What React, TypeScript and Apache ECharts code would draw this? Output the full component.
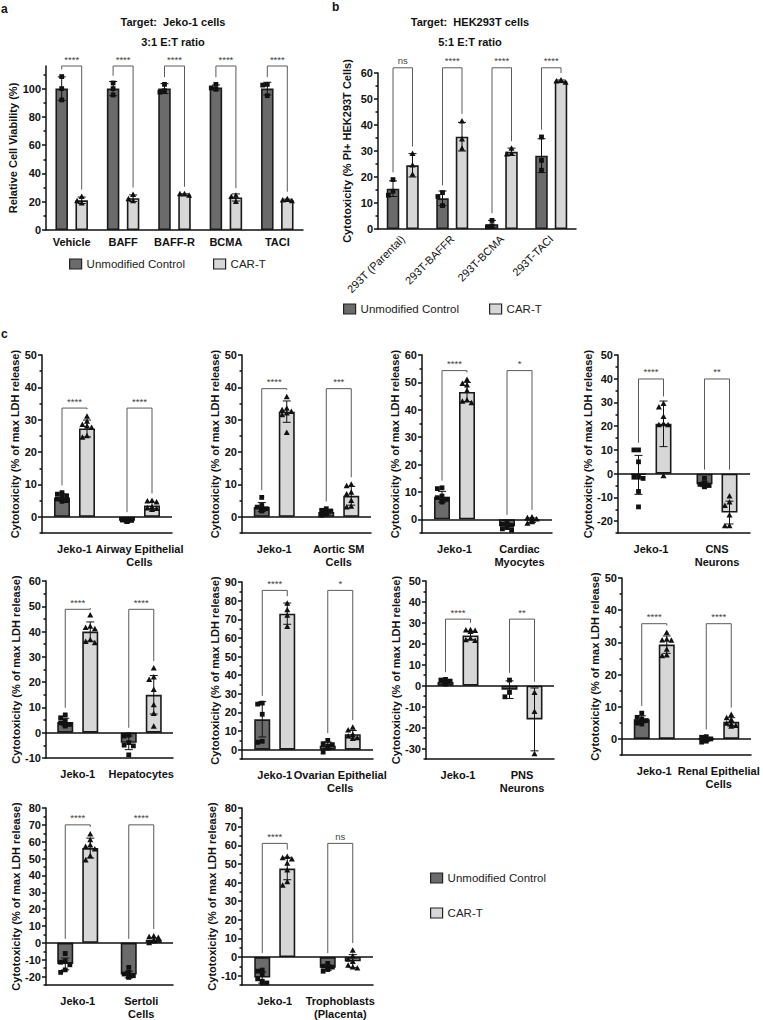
import React, { useEffect, useRef } from 'react';
import * as echarts from 'echarts';

const FONT = '"Liberation Sans", Arial, Helvetica, sans-serif';
const INK = '#111111';
const DARK = '#6b6b6b';
const LIGHT = '#d7d7d7';

// ---------- Panel a ----------
const aCats = ['Vehicle', 'BAFF', 'BAFF-R', 'BCMA', 'TACI'];
const aCtrlMean = [100, 100, 100, 100.8, 100];
const aCtrlSd = [8.3, 5, 3.5, 1.8, 4.5];
const aCtrlPts = [[108.5, 100, 92], [104, 100, 95.5], [103, 98.5, 97.5], [103, 100.5, 99.5], [103, 102.5, 95]];
const aCarMean = [21, 22.5, 25, 23, 21];
const aCarSd = [2.3, 2.3, 0.6, 2.5, 0.8];
const aCarPts = [[23.5, 20.5, 19], [25, 22, 20.5], [25.5, 25.5, 24.5], [24.5, 23.5, 20], [22, 21, 20.5]];
const aSig = ['****', '****', '****', '****', '****'];
const aBracket = [116, 116, 116, 116, 116];
const aTicks = [0, 20, 40, 60, 80, 100];
const aMinor = [10, 30, 50, 70, 90, 110];

// ---------- Panel b ----------
const bCats = ['293T (Parental)', '293T-BAFFR', '293T-BCMA', '293T-TACI'];
const bCtrlMean = [15.5, 11.8, 1.8, 28.2];
const bCtrlSd = [3, 2.8, 1.5, 6.5];
const bCtrlPts = [[19, 14.5, 13], [14, 12.5, 9], [3.3, 1.2, 0.8], [35.4, 26.4, 22.6]];
const bCarMean = [24.5, 35.5, 29.7, 56.8];
const bCarSd = [4.5, 5.5, 1.4, 0.5];
const bCarPts = [[29, 24.5, 21], [41.5, 34.5, 31], [31, 29, 28.8], [57.2, 56.8, 56.4]];
const bSig = ['ns', '****', '****', '****'];
const bBracket = [62, 62, 62, 62];
const bTicks = [0, 10, 20, 30, 40, 50, 60];
const bMinor = [5, 15, 25, 35, 45, 55];

// ---------- Panel c: Airway Epithelial ----------
const c1Cats = ['Jeko-1', 'Airway Epithelial\nCells'];
const c1CtrlMean = [6, -1.2];
const c1CtrlSd = [1.1, 0.3];
const c1CtrlPts = [[7.5, 7, 6.5, 6, 5.5, 5, 4.8], [-0.8, -1, -1.1, -1.2, -1.3, -1.4, -1.5]];
const c1CarMean = [27.3, 3.5];
const c1CarSd = [2.6, 1];
const c1CarPts = [[31, 29.5, 28.5, 28, 27.5, 25, 24.5], [5, 4.8, 4.5, 3, 2.7, 2.5, 2.2]];
const c1Sig = ['****', '****'];
const c1Bracket = [33.6, 33.6];
const c1Ticks = [0, 10, 20, 30, 40, 50];
const c1Minor = [-5, 5, 15, 25, 35, 45];

// ---------- Aortic SM ----------
const c2Cats = ['Jeko-1', 'Aortic SM\nCells'];
const c2CtrlMean = [3, 1.5];
const c2CtrlSd = [1.4, 0.7];
const c2CtrlPts = [[6, 3.5, 3, 2.5, 2.5, 2, 1.8], [2.5, 2, 1.8, 1.5, 1.2, 0.8, 0.5]];
const c2CarMean = [32.5, 6.5];
const c2CarSd = [3.3, 2.9];
const c2CarPts = [[37, 33.5, 33, 32.5, 32, 31.5, 26], [10, 9.5, 7.5, 7, 5, 3.2, 3]];
const c2Sig = ['****', '***'];
const c2Bracket = [39.6, 39.6];
const c2Ticks = [0, 10, 20, 30, 40, 50];
const c2Minor = [-5, 5, 15, 25, 35, 45];

// ---------- Cardiac Myocytes ----------
const c3Cats = ['Jeko-1', 'Cardiac\nMyocytes'];
const c3CtrlMean = [8.2, -2.5];
const c3CtrlSd = [2, 1.1];
const c3CtrlPts = [[11.5, 11.2, 8.5, 7.9, 7.3, 6.7, 6.3], [-1, -1.8, -2.2, -2.6, -3, -3.5, -4]];
const c3CarMean = [46.5, -0.3];
const c3CarSd = [3.5, 0.8];
const c3CarPts = [[51, 49.5, 49, 47, 43.5, 43, 42.5], [0.8, 0.5, 0, -0.3, -0.6, -1, -1.5]];
const c3Sig = ['****', '*'];
const c3Bracket = [54.3, 54.3];
const c3Ticks = [0, 10, 20, 30, 40, 50, 60];
const c3Minor = [-5, 5, 15, 25, 35, 45, 55];

// ---------- CNS Neurons ----------
const c4Cats = ['Jeko-1', 'CNS\nNeurons'];
const c4CtrlMean = [-0.5, -4.5];
const c4CtrlSd = [8.2, 1];
const c4CtrlPts = [[10, 10, 5, -1.5, -1.5, -2, -7.5, -14], [-2, -4, -4.5, -5, -5.5, -5.5]];
const c4CarMean = [21, -16.4];
const c4CarSd = [9.6, 4.8];
const c4CarPts = [[29.5, 28, 24, 21, 20.5, 20.5, -1], [-9.5, -12, -13.5, -17.5, -22, -22]];
const c4Sig = ['****', '**'];
const c4Bracket = [39.9, 39.9];
const c4Ticks = [-20, -10, 0, 10, 20, 30, 40, 50];
const c4Minor = [-25, -15, -5, 5, 15, 25, 35, 45];

// ---------- Hepatocytes ----------
const c5Cats = ['Jeko-1', 'Hepatocytes'];
const c5CtrlMean = [4.2, -4];
const c5CtrlSd = [1.5, 2.7];
const c5CtrlPts = [[7, 5.9, 4.6, 3.9, 3.3, 3, 2.6], [-0.9, -1.3, -3.9, -4.9, -5.2, -8.8]];
const c5CarMean = [40, 15];
const c5CarSd = [3.8, 7.6];
const c5CarPts = [[46.5, 42, 41.5, 41, 36.7, 36, 35.5], [25.5, 22, 21, 17, 11, 7.5, 2.5]];
const c5Sig = ['****', '****'];
const c5Bracket = [48.8, 48.8];
const c5Ticks = [-10, 0, 10, 20, 30, 40, 50, 60];
const c5Minor = [-5, 5, 15, 25, 35, 45, 55];

// ---------- Ovarian Epithelial ----------
const c6Cats = ['Jeko-1', 'Ovarian Epithelial\nCells'];
const c6CtrlMean = [16.3, 2.1];
const c6CtrlSd = [9.5, 2];
const c6CtrlPts = [[25, 24.5, 19, 4.5, 4], [5, 3.2, 2.7, 2, 0.9, -1.3]];
const c6CarMean = [73, 8.3];
const c6CarSd = [5.7, 2];
const c6CarPts = [[78.5, 75, 72, 66], [12, 10.4, 8, 7.3, 6.3, 5.9]];
const c6Sig = ['****', '*'];
const c6Bracket = [85.5, 85.5];
const c6Ticks = [0, 10, 20, 30, 40, 50, 60, 70, 80, 90];
const c6Minor = [-5, 5, 15, 25, 35, 45, 55, 65, 75, 85];

// ---------- PNS Neurons ----------
const c7Cats = ['Jeko-1', 'PNS\nNeurons'];
const c7CtrlMean = [1.8, -1.9];
const c7CtrlSd = [0.8, 4.2];
const c7CtrlPts = [[3, 2.7, 2.2, 1.6, 1.4, 1.1, 0.8], [2.7, -3.2, -5.3]];
const c7CarMean = [24, -16.1];
const c7CarSd = [2, 15];
const c7CarPts = [[26.6, 26.5, 26.3, 25.8, 22.6, 21.8, 21.5], [-3.3, -12.4, -32.6]];
const c7Sig = ['****', '**'];
const c7Bracket = [31.8, 31.8];
const c7Ticks = [-30, -20, -10, 0, 10, 20, 30, 40, 50];
const c7Minor = [-35, -25, -15, -5, 5, 15, 25, 35, 45];

// ---------- Renal Epithelial ----------
const c8Cats = ['Jeko-1', 'Renal Epithelial\nCells'];
const c8CtrlMean = [6.1, -0.1];
const c8CtrlSd = [1.1, 0.6];
const c8CtrlPts = [[8, 6.7, 6.2, 5.7, 5.4, 4.9, 4.6], [0.7, 0.5, 0, -0.3, -0.7, -1]];
const c8CarMean = [29.3, 5.3];
const c8CarSd = [2.7, 1.3];
const c8CarPts = [[33, 30.9, 30.7, 30.6, 27.8, 26, 25.8], [7.5, 6.5, 6, 4.8, 4.6, 4.1, 3.9]];
const c8Sig = ['****', '****'];
const c8Bracket = [35.8, 35.8];
const c8Ticks = [0, 10, 20, 30, 40, 50];
const c8Minor = [-5, 5, 15, 25, 35, 45];

// ---------- Sertoli Cells ----------
const c9Cats = ['Jeko-1', 'Sertoli\nCells'];
const c9CtrlMean = [-12.5, -18.8];
const c9CtrlSd = [3.5, 2];
const c9CtrlPts = [[-6.3, -10.8, -11.5, -13, -16, -17.5], [-14.5, -17.5, -18.5, -19.5, -19.8, -20.2, -20.5]];
const c9CarMean = [56.2, 1.8];
const c9CarSd = [5.9, 1];
const c9CarPts = [[64.5, 61, 58, 57, 55.5, 51.5, 49], [3.9, 3.5, 3, 1.6, 1, 0]];
const c9Sig = ['****', '****'];
const c9Bracket = [70, 70];
const c9Ticks = [-20, -10, 0, 10, 20, 30, 40, 50, 60, 70, 80];
const c9Minor = [-25, -15, -5, 5, 15, 25, 35, 45, 55, 65, 75];

// ---------- Trophoblasts ----------
const c10Cats = ['Jeko-1', 'Trophoblasts\n(Placenta)'];
const c10CtrlMean = [-11, -5.7];
const c10CtrlSd = [3, 1.4];
const c10CtrlPts = [[-7, -7.6, -9.4, -11.7, -13, -13.9, -13.9], [-3.4, -4.9, -5.4, -6.1, -6.7, -7.6]];
const c10CarMean = [47.5, -2.2];
const c10CarSd = [6, 3.5];
const c10CarPts = [[53.8, 53.2, 52.5, 50.2, 46.6, 40.3, 38.4], [3.6, 0.5, -1.3, -2.5, -4.5, -5.5, -6]];
const c10Sig = ['****', 'ns'];
const c10Bracket = [61, 61];
const c10Ticks = [-10, 0, 10, 20, 30, 40, 50, 60, 70, 80];
const c10Minor = [-15, -5, 5, 15, 25, 35, 45, 55, 65, 75];

const LDH = 'Cytotoxicity (% of max LDH release)';

type Panel = {
  cats: string[]; ctrlMean: number[]; ctrlSd: number[]; ctrlPts: number[][];
  carMean: number[]; carSd: number[]; carPts: number[][]; sig: string[]; bracket: number[];
  ticks: number[]; minor: number[]; min: number; max: number; yName: string;
};

const panels: Panel[] = [
  { cats: aCats, ctrlMean: aCtrlMean, ctrlSd: aCtrlSd, ctrlPts: aCtrlPts, carMean: aCarMean, carSd: aCarSd, carPts: aCarPts, sig: aSig, bracket: aBracket, ticks: aTicks, minor: aMinor, min: 0, max: 116, yName: 'Relative Cell Viability (%)' },
  { cats: bCats, ctrlMean: bCtrlMean, ctrlSd: bCtrlSd, ctrlPts: bCtrlPts, carMean: bCarMean, carSd: bCarSd, carPts: bCarPts, sig: bSig, bracket: bBracket, ticks: bTicks, minor: bMinor, min: 0, max: 60, yName: 'Cytotoxicity (% PI+ HEK293T Cells)' },
  { cats: c1Cats, ctrlMean: c1CtrlMean, ctrlSd: c1CtrlSd, ctrlPts: c1CtrlPts, carMean: c1CarMean, carSd: c1CarSd, carPts: c1CarPts, sig: c1Sig, bracket: c1Bracket, ticks: c1Ticks, minor: c1Minor, min: -5, max: 50, yName: LDH },
  { cats: c2Cats, ctrlMean: c2CtrlMean, ctrlSd: c2CtrlSd, ctrlPts: c2CtrlPts, carMean: c2CarMean, carSd: c2CarSd, carPts: c2CarPts, sig: c2Sig, bracket: c2Bracket, ticks: c2Ticks, minor: c2Minor, min: -5, max: 50, yName: LDH },
  { cats: c3Cats, ctrlMean: c3CtrlMean, ctrlSd: c3CtrlSd, ctrlPts: c3CtrlPts, carMean: c3CarMean, carSd: c3CarSd, carPts: c3CarPts, sig: c3Sig, bracket: c3Bracket, ticks: c3Ticks, minor: c3Minor, min: -5, max: 60, yName: LDH },
  { cats: c4Cats, ctrlMean: c4CtrlMean, ctrlSd: c4CtrlSd, ctrlPts: c4CtrlPts, carMean: c4CarMean, carSd: c4CarSd, carPts: c4CarPts, sig: c4Sig, bracket: c4Bracket, ticks: c4Ticks, minor: c4Minor, min: -25, max: 50, yName: LDH },
  { cats: c5Cats, ctrlMean: c5CtrlMean, ctrlSd: c5CtrlSd, ctrlPts: c5CtrlPts, carMean: c5CarMean, carSd: c5CarSd, carPts: c5CarPts, sig: c5Sig, bracket: c5Bracket, ticks: c5Ticks, minor: c5Minor, min: -10, max: 60, yName: LDH },
  { cats: c6Cats, ctrlMean: c6CtrlMean, ctrlSd: c6CtrlSd, ctrlPts: c6CtrlPts, carMean: c6CarMean, carSd: c6CarSd, carPts: c6CarPts, sig: c6Sig, bracket: c6Bracket, ticks: c6Ticks, minor: c6Minor, min: -5, max: 90, yName: LDH },
  { cats: c7Cats, ctrlMean: c7CtrlMean, ctrlSd: c7CtrlSd, ctrlPts: c7CtrlPts, carMean: c7CarMean, carSd: c7CarSd, carPts: c7CarPts, sig: c7Sig, bracket: c7Bracket, ticks: c7Ticks, minor: c7Minor, min: -35, max: 50, yName: LDH },
  { cats: c8Cats, ctrlMean: c8CtrlMean, ctrlSd: c8CtrlSd, ctrlPts: c8CtrlPts, carMean: c8CarMean, carSd: c8CarSd, carPts: c8CarPts, sig: c8Sig, bracket: c8Bracket, ticks: c8Ticks, minor: c8Minor, min: -5, max: 50, yName: LDH },
  { cats: c9Cats, ctrlMean: c9CtrlMean, ctrlSd: c9CtrlSd, ctrlPts: c9CtrlPts, carMean: c9CarMean, carSd: c9CarSd, carPts: c9CarPts, sig: c9Sig, bracket: c9Bracket, ticks: c9Ticks, minor: c9Minor, min: -25, max: 80, yName: LDH },
  { cats: c10Cats, ctrlMean: c10CtrlMean, ctrlSd: c10CtrlSd, ctrlPts: c10CtrlPts, carMean: c10CarMean, carSd: c10CarSd, carPts: c10CarPts, sig: c10Sig, bracket: c10Bracket, ticks: c10Ticks, minor: c10Minor, min: -15, max: 80, yName: LDH },
];

// layout (pixels)
const layouts = [
  { left: 46, top: 66, width: 257, height: 164, nameGap: 18, barW: 12.5, gap: 7.5, rotate: 0, labelMargin: 5 },
  { left: 378, top: 73, width: 198, height: 156, nameGap: 26, barW: 12.5, gap: 7, rotate: 45, labelMargin: 8 },
  { left: 42, top: 355, width: 130, height: 178, nameGap: 16, barW: 16, gap: 9, rotate: 0, labelMargin: 9 },
  { left: 242, top: 355, width: 129, height: 178, nameGap: 16, barW: 16, gap: 9, rotate: 0, labelMargin: 9 },
  { left: 422, top: 355, width: 130, height: 178, nameGap: 16, barW: 16, gap: 9, rotate: 0, labelMargin: 9 },
  { left: 618, top: 355, width: 132, height: 178, nameGap: 15, barW: 16, gap: 9, rotate: 0, labelMargin: 9 },
  { left: 46, top: 581, width: 127, height: 177, nameGap: 21, barW: 16, gap: 9, rotate: 0, labelMargin: 9 },
  { left: 242, top: 582, width: 131, height: 177, nameGap: 21, barW: 16, gap: 9, rotate: 0, labelMargin: 9 },
  { left: 426, top: 581, width: 128, height: 178, nameGap: 21, barW: 16, gap: 9, rotate: 0, labelMargin: 9 },
  { left: 622, top: 578, width: 129, height: 177, nameGap: 17, barW: 16, gap: 9, rotate: 0, labelMargin: 9 },
  { left: 46, top: 808, width: 127, height: 177, nameGap: 21, barW: 16, gap: 9, rotate: 0, labelMargin: 9 },
  { left: 242, top: 808, width: 131, height: 178, nameGap: 17, barW: 16, gap: 9, rotate: 0, labelMargin: 9 },
];

function makeRender(p: Panel, barW: number, gapPx: number) {
  const off = (barW + gapPx) / 2;
  const half = barW / 2;
  return (params: any, api: any) => {
    const ci = api.value(0);
    const c = api.coord([ci, 0]);
    const xs = [c[0] - off, c[0] + off];
    const children: any[] = [];
    const tops: number[] = [];
    const groups: [number, number, number[]][] = [
      [p.ctrlMean[ci], p.ctrlSd[ci], p.ctrlPts[ci]],
      [p.carMean[ci], p.carSd[ci], p.carPts[ci]],
    ];
    const ln = { stroke: INK, lineWidth: 1 };
    groups.forEach(([m, sd, pts], s) => {
      const cx = xs[s];
      const yHi = api.coord([ci, m + sd])[1];
      const yLo = api.coord([ci, m - sd])[1];
      const cap = 4;
      children.push({ type: 'line', shape: { x1: cx, y1: yHi, x2: cx, y2: yLo }, style: ln });
      children.push({ type: 'line', shape: { x1: cx - cap, y1: yHi, x2: cx + cap, y2: yHi }, style: ln });
      children.push({ type: 'line', shape: { x1: cx - cap, y1: yLo, x2: cx + cap, y2: yLo }, style: ln });
      let top = Math.min(c[1], api.coord([ci, m])[1], yHi);
      const placed: number[][] = [];
      const maxOff = half - 1;
      const slots = [0, -4.6, 4.6, -2.3, 2.3, -maxOff, maxOff];
      pts.forEach((v) => {
        const y = api.coord([ci, v])[1];
        let dx = 0;
        for (const sl of slots) {
          if (!placed.some((q) => Math.abs(q[0] - sl) < 4.4 && Math.abs(q[1] - y) < 4.4)) { dx = sl; break; }
        }
        placed.push([dx, y]);
        const x = cx + dx;
        if (s === 0) {
          children.push({ type: 'rect', shape: { x: x - 2.4, y: y - 2.4, width: 4.8, height: 4.8 }, style: { fill: INK } });
        } else {
          children.push({ type: 'polygon', shape: { points: [[x, y - 3.2], [x - 3, y + 2.3], [x + 3, y + 2.3]] }, style: { fill: INK } });
        }
        top = Math.min(top, y - 3.2);
      });
      tops.push(top - 4);
    });
    const by = api.coord([ci, p.bracket[ci]])[1];
    children.push({
      type: 'polyline',
      shape: { points: [[xs[0], tops[0]], [xs[0], by], [xs[1], by], [xs[1], tops[1]]] },
      style: { stroke: '#5a5a5a', lineWidth: 1, fill: 'none' },
    });
    children.push({
      type: 'text',
      style: {
        x: (xs[0] + xs[1]) / 2, y: by - 2, text: p.sig[ci],
        textAlign: 'center', textVerticalAlign: 'bottom',
        font: `9.5px ${FONT}`, fill: '#444',
      },
    });
    return { type: 'group', children };
  };
}

function buildOption() {
  const axisLineStyle = { color: INK, width: 1.5 };
  const grid = layouts.map((l) => ({ left: l.left, top: l.top, width: l.width, height: l.height }));
  const xAxis = panels.map((p, i) => ({
    gridIndex: i,
    type: 'category',
    data: p.cats,
    boundaryGap: true,
    axisLine: { onZero: false, lineStyle: axisLineStyle },
    axisTick: { alignWithLabel: true, length: 4, lineStyle: axisLineStyle },
    axisLabel: {
      interval: 0,
      color: INK,
      fontFamily: FONT,
      fontSize: 11,
      fontWeight: layouts[i].rotate ? 'normal' : 'bold',
      rotate: layouts[i].rotate,
      margin: layouts[i].labelMargin,
      lineHeight: 13,
    },
    splitLine: { show: false },
  }));
  const yAxis: any[] = [];
  panels.forEach((p, i) => {
    yAxis.push({
      gridIndex: i,
      type: 'value',
      position: 'left',
      min: p.min,
      max: p.max,
      axisLine: { show: true, onZero: false, lineStyle: axisLineStyle },
      axisTick: { show: true, length: 4, customValues: p.ticks, lineStyle: axisLineStyle },
      axisLabel: { customValues: p.ticks, color: INK, fontFamily: FONT, fontSize: 11, fontWeight: 'bold', margin: 5 },
      splitLine: { show: false },
      name: p.yName,
      nameLocation: 'middle',
      nameGap: layouts[i].nameGap,
      nameTextStyle: { color: INK, fontFamily: FONT, fontSize: 11, fontWeight: 'bold' },
    });
    yAxis.push({
      gridIndex: i,
      type: 'value',
      position: 'left',
      min: p.min,
      max: p.max,
      axisLine: { show: false },
      axisTick: { show: true, length: 2.5, customValues: p.minor, lineStyle: axisLineStyle },
      axisLabel: { show: false },
      splitLine: { show: false },
    });
  });
  const series: any[] = [];
  panels.forEach((p, i) => {
    const l = layouts[i];
    const barGap = `${(l.gap / l.barW) * 100}%`;
    const border = { borderColor: '#1a1a1a', borderWidth: 1.6 };
    series.push({
      type: 'bar', name: 'Unmodified Control', xAxisIndex: i, yAxisIndex: 2 * i,
      data: p.ctrlMean, barWidth: l.barW, barGap, z: 2,
      itemStyle: { color: DARK, ...border },
      silent: true,
      markLine: p.min < 0 ? {
        silent: true, symbol: ['none', 'none'], label: { show: false },
        lineStyle: { color: INK, width: 1.5, type: 'solid' },
        data: [{ yAxis: 0 }],
      } : undefined,
    });
    series.push({
      type: 'bar', name: 'CAR-T', xAxisIndex: i, yAxisIndex: 2 * i,
      data: p.carMean, barWidth: l.barW, barGap, z: 2,
      itemStyle: { color: LIGHT, ...border },
      silent: true,
    });
    series.push({
      type: 'custom', name: 'points', xAxisIndex: i, yAxisIndex: 2 * i,
      data: p.cats.map((_, k) => [k, 0]),
      encode: { x: 0, y: 1 },
      z: 10, zlevel: 0,
      clip: false, silent: true,
      renderItem: makeRender(p, l.barW, l.gap),
    });
  });
  const legendCommon = {
    icon: 'rect', itemWidth: 12, itemHeight: 10, padding: 0, selectedMode: false,
    itemStyle: { borderColor: '#222', borderWidth: 1.2 },
    textStyle: { fontFamily: FONT, fontSize: 11.5, color: '#222' },
  };
  const legend = [
    { ...legendCommon, left: 69, top: 258, data: ['Unmodified Control'] },
    { ...legendCommon, left: 213, top: 258, data: ['CAR-T'] },
    { ...legendCommon, left: 343, top: 303, data: ['Unmodified Control'] },
    { ...legendCommon, left: 489, top: 303, data: ['CAR-T'] },
    { ...legendCommon, left: 430, top: 872, data: ['Unmodified Control'] },
    { ...legendCommon, left: 430, top: 907, data: ['CAR-T'] },
  ];
  const txt = (text: string, x: number, y: number, size: number, align = 'center') => ({
    type: 'text', x, y,
    style: { text, textAlign: align, textVerticalAlign: 'middle', font: `bold ${size}px ${FONT}`, fill: INK },
  });
  const graphic = [
    txt('a', 1, 9, 12, 'left'),
    txt('b', 332, 7, 12, 'left'),
    txt('c', 1, 334, 12, 'left'),
    txt('Target:  Jeko-1 cells', 173, 22, 11),
    txt('3:1 E:T ratio', 173, 42, 11),
    txt('Target:  HEK293T cells', 470, 22, 11),
    txt('5:1 E:T ratio', 470, 42, 11),
  ];
  return { animation: false, backgroundColor: '#ffffff', grid, xAxis, yAxis, series, legend, graphic };
}

export default function App() {
  const ref = useRef<HTMLDivElement>(null);
  useEffect(() => {
    document.body.style.margin = '0';
    if (!ref.current) return;
    const chart = echarts.init(ref.current, undefined, { renderer: 'svg' });
    chart.setOption(buildOption() as any);
    return () => chart.dispose();
  }, []);
  return <div ref={ref} style={{ width: 763, height: 1020 }} />;
}
